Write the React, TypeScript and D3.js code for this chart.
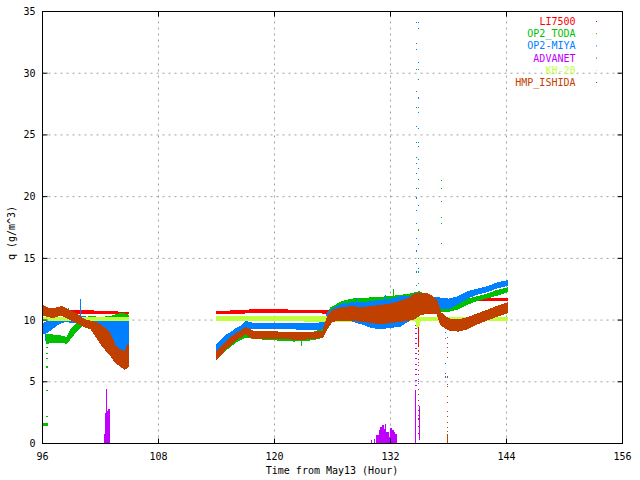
import React from "react";
import * as d3 from "d3";

// ---------- data ----------
const T_TICKS = [96, 108, 120, 132, 144, 156];
const Q_TICKS = [0, 5, 10, 15, 20, 25, 30, 35];

const SERIES_NAMES = ["LI7500", "OP2_TODA", "OP2-MIYA", "ADVANET", "KH-20", "HMP_ISHIDA"];
const SERIES_COLORS = ["#ff0000", "#00c000", "#0080ff", "#c000ff", "#c0ff40", "#c04000"];

// bands: [hour, low q, high q]
const LI7500_SEG1 = [[96, 10.5, 10.8], [98, 10.6, 10.8], [100, 10.55, 10.8], [102, 10.5, 10.7], [104, 10.5, 10.65], [104.85, 10.5, 10.65]];
const LI7500_SEG2 = [[114, 10.5, 10.7], [116, 10.55, 10.75], [118, 10.6, 10.85], [120, 10.6, 10.85], [122, 10.6, 10.8], [124, 10.6, 10.8], [125.6, 10.55, 10.8], [128, 10.5, 10.9], [130, 10.5, 10.9], [132, 10.5, 10.9], [134, 10.4, 10.8], [135, 10.5, 10.75], [137, 10.55, 10.8], [137.5, 10.8, 11.0], [138.5, 11.2, 11.45], [139.2, 11.55, 11.75], [144.1, 11.55, 11.75]];

const TODA_SEG1 = [[96.4, 8.1, 8.8], [97, 8.2, 8.8], [98, 8.2, 8.7], [98.5, 8.1, 8.6], [99, 8.6, 9.3], [99.5, 9.1, 9.7], [100, 9.5, 10.1], [101, 9.7, 10.3], [102, 9.6, 10.2], [103, 9.3, 10.3], [103.5, 9.0, 10.4], [104, 8.0, 10.5], [104.5, 7.8, 10.5], [104.85, 7.7, 10.4]];
const TODA_SEG2 = [[114, 6.9, 7.6], [115, 7.6, 8.3], [116, 8.2, 8.9], [117, 8.6, 9.3], [118, 8.5, 9.0], [120, 8.4, 9.0], [122, 8.3, 8.9], [124, 8.4, 9.0], [125, 8.6, 9.3], [125.8, 9.8, 11.0], [127, 10.3, 11.5], [128, 10.4, 11.7], [130, 10.5, 11.8], [132, 10.5, 11.9], [133, 10.5, 12.0], [134, 10.5, 12.1], [135, 10.6, 12.3], [136, 10.6, 11.8], [137, 10.7, 11.2], [138, 10.7, 11.1], [139, 10.9, 11.3], [140, 11.3, 11.7], [141, 11.6, 11.9], [142, 11.8, 12.1], [143, 12.0, 12.4], [144.1, 12.3, 12.6]];
const TODA_SEG0 = [[96, 1.45, 1.6], [96.5, 1.45, 1.6]];

const MIYA_SEG1 = [[96, 8.9, 9.7], [96.5, 9.0, 9.9], [97, 9.3, 10.0], [97.5, 9.6, 10.1], [98, 9.8, 10.2], [98.5, 9.9, 10.3], [99, 9.8, 10.3], [99.5, 9.8, 10.4], [100, 9.7, 10.3], [101, 9.6, 10.2], [101.5, 9.4, 10.1], [102, 9.2, 10.2], [102.5, 9.0, 10.1], [103, 8.4, 10.0], [103.5, 7.5, 10.2], [104, 7.2, 10.0], [104.5, 7.0, 10.0], [104.85, 7.0, 9.9]];
const MIYA_SEG2 = [[114, 7.4, 8.0], [114.5, 7.9, 8.4], [115, 8.25, 8.8], [115.5, 8.5, 9.0], [116, 8.9, 9.3], [116.5, 9.0, 9.5], [117, 9.3, 9.9], [117.5, 9.3, 9.8], [118, 9.3, 9.7], [119, 9.3, 9.7], [120, 9.3, 9.7], [121, 9.3, 9.7], [122, 9.3, 9.7], [123, 9.2, 9.7], [124, 9.2, 9.7], [125, 9.3, 9.8], [125.5, 9.8, 10.6], [126, 10.0, 10.9], [127, 9.9, 11.3], [128, 9.9, 11.4], [129, 9.7, 11.4], [130, 9.4, 11.5], [131, 9.3, 11.6], [132, 9.4, 11.7], [133, 9.5, 11.9], [134, 10.0, 11.9], [134.7, 10.6, 12.2], [135, 11.0, 12.0], [136, 11.0, 11.8], [137, 10.9, 11.8], [138, 10.9, 11.7], [139, 11.3, 11.9], [140, 11.8, 12.3], [141, 12.1, 12.5], [142, 12.3, 12.7], [143, 12.6, 13.0], [144.1, 12.8, 13.2]];

const KH20_SEG1 = [[96, 10.0, 10.2], [104.85, 10.0, 10.2]];
const KH20_SEG2 = [[114, 9.95, 10.25], [120, 9.95, 10.3], [126, 9.9, 10.3], [134.6, 10.0, 10.2], [134.75, 9.4, 10.2], [134.95, 9.5, 10.2], [135.1, 10.0, 10.2], [144.1, 10.0, 10.2]];

const ISHIDA_SEG1 = [[96, 10.4, 11.2], [96.5, 10.3, 11.0], [97, 10.2, 10.9], [97.5, 10.3, 11.0], [98, 10.4, 11.1], [98.5, 10.2, 10.9], [99, 10.0, 10.7], [99.5, 9.8, 10.5], [100, 9.6, 10.2], [100.5, 9.4, 10.0], [101, 9.3, 9.9], [101.5, 8.7, 9.8], [102, 8.1, 9.6], [102.5, 7.6, 9.3], [103, 7.2, 8.9], [103.5, 6.6, 8.0], [104, 6.3, 7.6], [104.5, 6.0, 7.4], [104.85, 6.2, 8.1]];
const ISHIDA_SEG2 = [[114, 6.8, 7.45], [114.5, 7.2, 7.8], [115, 7.7, 8.25], [115.5, 8.0, 8.6], [116, 8.4, 8.9], [116.5, 8.6, 9.1], [117, 8.9, 9.4], [117.5, 8.6, 9.2], [118, 8.5, 9.05], [119, 8.5, 9.05], [120, 8.5, 9.05], [121, 8.5, 9.0], [122, 8.45, 9.0], [123, 8.45, 9.0], [124, 8.5, 9.0], [125, 8.6, 9.1], [125.5, 9.4, 10.3], [126, 9.9, 10.8], [127, 10.0, 11.0], [128, 10.0, 11.1], [129, 9.9, 11.0], [130, 9.8, 11.1], [131, 9.7, 11.2], [132, 9.8, 11.3], [133, 9.9, 11.5], [134, 10.0, 11.8], [134.5, 10.1, 12.1], [135, 10.4, 12.2], [136, 10.6, 12.1], [136.8, 10.5, 11.6], [137.2, 9.6, 10.6], [138, 9.2, 10.1], [139, 9.1, 10.0], [140, 9.3, 10.2], [141, 9.7, 10.5], [142, 10.0, 10.8], [143, 10.3, 11.1], [144.1, 10.6, 11.4]];

// ADVANET bars: [hour, q] (step)
const ADV_SEG1 = [[102.37, 0.8], [102.47, 2.5], [102.56, 2.3], [102.67, 2.6], [102.78, 2.8], [102.95, 0]];
const ADV_SEG2 = [[129.83, 0.34], [129.9, 0], [130.02, 0.3], [130.08, 0], [130.3, 0.35], [130.36, 0], [130.52, 0.65], [130.76, 1.09], [130.94, 1.3], [131.11, 1.5], [131.28, 1.2], [131.46, 1.58], [131.55, 0.9], [131.8, 0.55], [131.97, 1.25], [132.15, 1.1], [132.32, 0.95], [132.49, 0.8], [132.67, 0]];

// vertical spikes: [hour, low q, high q]
const LI7500_SPIKES = [[134.9, 7.8, 9.4]];
const TODA_SPIKES = [[122.77, 7.9, 8.6], [132.3, 11.2, 12.5], [104.2, 9.0, 10.6]];
const MIYA_SPIKES = [[99.9, 10.2, 11.7], [98.7, 10.2, 11.0], [96.3, 8.3, 9.0], [128.5, 10.0, 11.8], [131.5, 9.5, 12.0]];
const ADV_SPIKES = [[102.65, 0, 4.4], [134.62, 0, 4.3], [135.0, 0.3, 3.0]];
const ISHIDA_SPIKES = [[137.9, 0, 0.8]];

// isolated dots: hour and list of q values
const LI7500_DOTS = [{ t: 134.9, q: [8.6, 7.2, 6.8, 6.3, 5.6, 5.0, 4.4, 3.5, 2.7, 2.0, 1.4, 0.8] }];
const TODA_DOTS = [
  { t: 134.85, q: [33.6, 30.3, 29.5, 27.2, 25.5, 24.4, 23.0, 21.4, 20.7, 19.3, 17.3, 15.0, 13.9, 13.0] },
  { t: 137.3, q: [21.3, 20.7, 19.6, 18.3, 17.8, 16.2] },
  { t: 96.45, q: [7.8, 7.3, 6.9, 6.2, 4.3, 2.2] },
];
const MIYA_DOTS = [
  { t: 134.65, q: [34.1, 32.4, 31.9, 30.3, 28.5, 27.2, 25.7, 24.4, 23.2, 22.7, 21.9, 20.7, 19.9, 18.9, 17.8, 16.6, 15.6, 14.6, 13.9, 12.8] },
  { t: 134.92, q: [34.1, 33.6, 30.9, 28.0, 26.8, 25.5, 24.1, 22.3, 19.3, 16.1, 14.2, 5.2, 4.9] },
  { t: 137.7, q: [9.0, 8.5, 6.5, 5.7, 5.4] },
];
const ADV_DOTS = [{ t: 134.62, q: [9.6, 9.3, 8.9, 8.5, 8.1, 7.7, 7.3, 6.9, 6.4, 6.0, 5.6, 5.1, 4.7] }];
const ISHIDA_DOTS = [
  { t: 137.9, q: [8.6, 8.1, 7.8, 7.4, 7.0, 5.4, 4.8, 4.6, 3.8, 3.3, 2.6, 2.2, 1.7, 1.3, 1.0] },
  { t: 134.9, q: [8.8, 8.2, 7.5, 6.6, 5.9, 4.0, 3.1, 2.3] },
];

// ---------- component ----------
const FONT = "'DejaVu Sans Mono', monospace";

export default function App() {
  const x = d3.scaleLinear().domain([96, 156]).range([42.5, 622.5]);
  const y = d3.scaleLinear().domain([0, 35]).range([443.5, 11.5]);

  const band = d3
    .area<number[]>()
    .x((d) => x(d[0]))
    .y0((d) => y(d[1]))
    .y1((d) => y(d[2]));
  const bars = d3
    .area<number[]>()
    .curve(d3.curveStepAfter)
    .x((d) => x(d[0]))
    .y0(() => y(0))
    .y1((d) => y(d[1]));

  const series = [
    { bands: [LI7500_SEG1, LI7500_SEG2], spikes: LI7500_SPIKES, dots: LI7500_DOTS },
    { bands: [TODA_SEG0, TODA_SEG1, TODA_SEG2], spikes: TODA_SPIKES, dots: TODA_DOTS },
    { bands: [MIYA_SEG1, MIYA_SEG2], spikes: MIYA_SPIKES, dots: MIYA_DOTS },
    { bars: [ADV_SEG1, ADV_SEG2], spikes: ADV_SPIKES, dots: ADV_DOTS },
    { bands: [KH20_SEG1, KH20_SEG2], spikes: [], dots: [] },
    { bands: [ISHIDA_SEG1, ISHIDA_SEG2], spikes: ISHIDA_SPIKES, dots: ISHIDA_DOTS },
  ];

  const [x0, x1] = x.range();
  const [yb, yt] = y.range();
  const tick = 5;

  return (
    <svg
      width={640}
      height={480}
      style={{ position: "absolute", left: 0, top: 0, background: "#fff" }}
      fontFamily={FONT}
      fontSize={10}
    >
      <rect x={0} y={0} width={640} height={480} fill="#fff" />
      {/* grid */}
      {Q_TICKS.slice(1, -1).map((q) => (
        <line key={"gy" + q} x1={x0} x2={x1} y1={y(q)} y2={y(q)} stroke="#a0a0a0" strokeDasharray="2,4" />
      ))}
      {T_TICKS.slice(1, -1).map((t) => (
        <line key={"gx" + t} x1={x(t)} x2={x(t)} y1={yb} y2={yt} stroke="#a0a0a0" strokeDasharray="2,4" />
      ))}

      {/* data */}
      {series.map((s, i) => {
        const c = SERIES_COLORS[i];
        return (
          <g key={"s" + i} shapeRendering="crispEdges">
            {(s.bands || []).map((b, j) => (
              <path key={"b" + j} d={band(b) || ""} fill={c} stroke={c} strokeWidth={1} />
            ))}
            {(s.bars || []).map((b, j) => (
              <path key={"r" + j} d={bars(b) || ""} fill={c} stroke="none" />
            ))}
            {s.spikes.map((sp, j) => (
              <line key={"k" + j} x1={x(sp[0])} x2={x(sp[0])} y1={y(sp[1])} y2={y(sp[2])} stroke={c} strokeWidth={1.2} />
            ))}
            {s.dots.map((col, j) =>
              col.q.map((q, k) => (
                <rect key={"d" + j + "_" + k} x={x(col.t) - 0.5} y={y(q) - 0.5} width={1.2} height={1.2} fill={c} />
              ))
            )}
          </g>
        );
      })}

      {/* border */}
      <rect x={x0} y={yt} width={x1 - x0} height={yb - yt} fill="none" stroke="#000" strokeWidth={1} />
      {/* ticks */}
      {Q_TICKS.map((q) => (
        <g key={"ty" + q}>
          <line x1={x0} x2={x0 + tick} y1={y(q)} y2={y(q)} stroke="#000" />
          <line x1={x1} x2={x1 - tick} y1={y(q)} y2={y(q)} stroke="#000" />
          <text x={35.5} y={y(q) + 3.5} textAnchor="end" fill="#000">
            {q}
          </text>
        </g>
      ))}
      {T_TICKS.map((t) => (
        <g key={"tx" + t}>
          <line x1={x(t)} x2={x(t)} y1={yb} y2={yb - tick} stroke="#000" />
          <line x1={x(t)} x2={x(t)} y1={yt} y2={yt + tick} stroke="#000" />
          <text x={x(t)} y={460} textAnchor="middle" fill="#000">
            {t}
          </text>
        </g>
      ))}

      {/* axis labels */}
      <text x={332} y={474} textAnchor="middle" fill="#000">
        Time from May13 (Hour)
      </text>
      <text transform="translate(15,233) rotate(-90)" textAnchor="middle" fill="#000">
        q (g/m^3)
      </text>

      {/* legend */}
      {SERIES_NAMES.map((n, i) => (
        <g key={"l" + i}>
          <text x={575.5} y={25 + i * 12.2} textAnchor="end" fill={SERIES_COLORS[i]}>
            {n}
          </text>
          <rect x={596} y={21 + i * 12.2} width={1} height={1} fill={SERIES_COLORS[i]} />
        </g>
      ))}
    </svg>
  );
}
